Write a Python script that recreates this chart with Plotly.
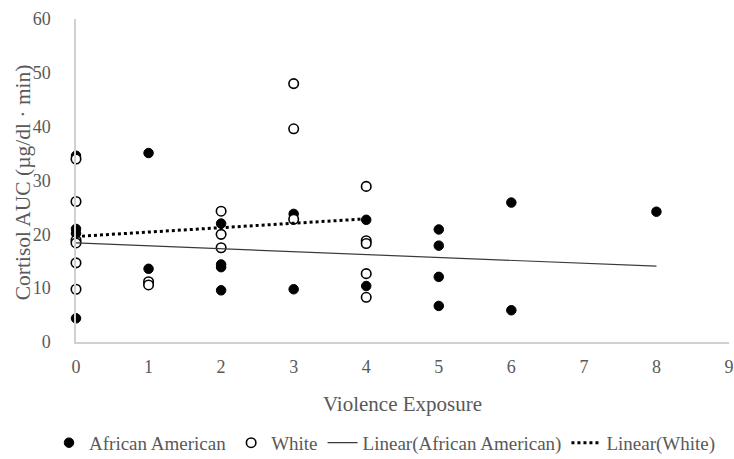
import plotly.graph_objects as go

# Cortisol AUC by violence exposure, per group
aa_x = [0, 0, 0, 0, 1, 1, 2, 2, 2, 2, 3, 3, 4, 4, 5, 5, 5, 5, 6, 6, 8]
aa_y = [34.6, 21.0, 20.2, 4.4, 35.1, 13.6, 22.0, 14.4, 13.9, 9.6, 23.8, 9.8,
        22.7, 10.4, 20.9, 17.9, 12.1, 6.7, 25.9, 5.9, 24.2]

white_x = [0, 0, 0, 0, 0, 0, 1, 1, 2, 2, 2, 3, 3, 3, 4, 4, 4, 4, 4]
white_y = [34.0, 26.1, 18.9, 18.4, 14.7, 9.8, 11.2, 10.6, 24.3, 20.0, 17.5,
           48.0, 39.6, 22.8, 28.9, 18.8, 18.3, 12.7, 8.3]

# Linear trendlines: [intercept, slope]
trend_aa = [18.4, -0.54]
trend_white = [19.6, 0.82]

x_ticks = [0, 1, 2, 3, 4, 5, 6, 7, 8, 9]
y_ticks = [0, 10, 20, 30, 40, 50, 60]

FONT = "Liberation Serif"
GRAY = "#595959"
AXIS = "#d0d0d0"

# plot-area geometry in pixels
W, H = 734, 459
ML, MR, MT, MB = 76, 5, 18.5, 117
PW = W - ML - MR
PH = H - MT - MB


def trend_line(xs, coef):
    lo, hi = min(xs), max(xs)
    return [lo, hi], [coef[0] + coef[1] * lo, coef[0] + coef[1] * hi]


fig = go.Figure()

fig.add_trace(go.Scatter(
    x=aa_x, y=aa_y, mode="markers", name="African American",
    marker=dict(symbol="circle", size=9.5, color="black",
                line=dict(color="black", width=1)),
    cliponaxis=False,
))
fig.add_trace(go.Scatter(
    x=white_x, y=white_y, mode="markers", name="White",
    marker=dict(symbol="circle", size=9.5, color="white",
                line=dict(color="black", width=1.6)),
    cliponaxis=False,
))

tx, ty = trend_line(aa_x, trend_aa)
fig.add_trace(go.Scatter(
    x=tx, y=ty, mode="lines", name="Linear(African American)",
    line=dict(color="#3a3a3a", width=1.2),
    cliponaxis=False,
))
tx, ty = trend_line(white_x, trend_white)
fig.add_trace(go.Scatter(
    x=tx, y=ty, mode="lines", name="Linear(White)",
    line=dict(color="black", width=3, dash="dot"),
    cliponaxis=False,
))

fig.update_layout(
    width=W, height=H,
    margin=dict(l=ML, r=MR, t=MT, b=MB, autoexpand=False),
    paper_bgcolor="white", plot_bgcolor="white",
    font=dict(family=FONT, color=GRAY),
    showlegend=True,
    legend=dict(
        orientation="h",
        x=(49 - ML) / PW, xanchor="left",
        y=(MT + PH - 443) / PH, yanchor="middle",
        font=dict(family=FONT, size=19, color=GRAY),
        itemwidth=30, tracegroupgap=0,
        bgcolor="rgba(0,0,0,0)",
    ),
    xaxis=dict(
        range=[0, 9], tickvals=x_ticks, ticktext=[str(v) for v in x_ticks],
        showline=True, linecolor=AXIS, linewidth=1.5,
        showgrid=False, zeroline=False, ticks="",
        tickfont=dict(family=FONT, size=18, color=GRAY),
        ticklabelstandoff=8,
        title=dict(text="Violence Exposure", standoff=20,
                   font=dict(family=FONT, size=21, color=GRAY)),
        automargin=False, fixedrange=True,
    ),
    yaxis=dict(
        range=[0, 60], tickvals=y_ticks, ticktext=[str(v) for v in y_ticks],
        showline=True, linecolor=AXIS, linewidth=1.5,
        showgrid=False, zeroline=False, ticks="",
        tickfont=dict(family=FONT, size=18, color=GRAY),
        ticklabelstandoff=20,
        automargin=False, fixedrange=True,
    ),
    annotations=[dict(
        text="Cortisol AUC (µg/dl · min)", textangle=-90,
        xref="paper", yref="paper",
        x=(23 - ML) / PW, y=(MT + PH - 182) / PH,
        xanchor="center", yanchor="middle", showarrow=False,
        font=dict(family=FONT, size=21.5, color=GRAY),
    )],
)

fig.write_html("out.html", config={"displayModeBar": False})
